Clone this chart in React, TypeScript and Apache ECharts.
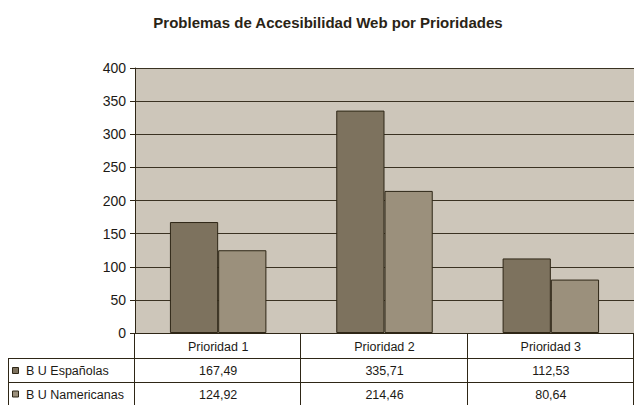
import React, { useEffect, useRef } from "react";
import * as echarts from "echarts";

const categories = ["Prioridad 1", "Prioridad 2", "Prioridad 3"];
const seriesNames = ["B U Españolas", "B U Namericanas"];
const espanolas = [167.49, 335.71, 112.53];
const namericanas = [124.92, 214.46, 80.64];
const yTicks = { min: 0, max: 400, interval: 50 };

const W = 634;
const H = 405;
const GL = 135;
const GT = 68;
const GB = 333;
const TL = 8;
const ROW_H = [25, 24, 23];

const darkC = "#7d725e";
const lightC = "#9b907c";
const lineC = "#2e2616";
const textC = "#1c1a16";
const FONT = "'Liberation Sans', Arial, sans-serif";

function fmt(v: number) {
  return v.toFixed(2).replace(".", ",");
}

export default function App() {
  const ref = useRef<HTMLDivElement>(null);
  useEffect(() => {
    if (!ref.current) return;
    const chart = echarts.init(ref.current, undefined, { renderer: "svg" });
    const rows = [espanolas, namericanas];
    const colors = [darkC, lightC];
    const colW = (W - GL) / categories.length;
    const graphic: any[] = [];
    const y1 = GB + ROW_H[0];
    const y2 = y1 + ROW_H[1];
    const y3 = y2 + ROW_H[2];
    const font = "12.5px " + FONT;
    [y1, y2].forEach((y) =>
      graphic.push({ type: "line", shape: { x1: TL, y1: y + 0.5, x2: W, y2: y + 0.5 }, style: { stroke: lineC, lineWidth: 1 } })
    );
    graphic.push({ type: "line", shape: { x1: TL + 0.5, y1: y1, x2: TL + 0.5, y2: y3 + 5 }, style: { stroke: lineC, lineWidth: 1 } });
    for (let i = 0; i <= categories.length; i++) {
      const x = Math.round(GL + i * colW) - 0.5;
      graphic.push({ type: "line", shape: { x1: x, y1: GB, x2: x, y2: y3 + 5 }, style: { stroke: lineC, lineWidth: 1 } });
    }
    categories.forEach((c, i) =>
      graphic.push({
        type: "text",
        x: GL + (i + 0.5) * colW,
        y: GB + ROW_H[0] / 2 + 1,
        style: { text: c, fill: textC, font, align: "center", verticalAlign: "middle" },
      })
    );
    rows.forEach((vals, r) => {
      const cy = (r === 0 ? y1 : y2) + ROW_H[r + 1] / 2 + 1;
      graphic.push({ type: "rect", shape: { x: 12.5, y: cy - 3.5, width: 6, height: 6 }, style: { fill: colors[r], stroke: lineC, lineWidth: 1 } });
      graphic.push({
        type: "text",
        x: 26,
        y: cy,
        style: { text: seriesNames[r], fill: textC, font, align: "left", verticalAlign: "middle" },
      });
      vals.forEach((v, i) =>
        graphic.push({
          type: "text",
          x: GL + (i + 0.5) * colW,
          y: cy,
          style: { text: fmt(v), fill: textC, font, align: "center", verticalAlign: "middle" },
        })
      );
    });

    chart.setOption({
      animation: false,
      title: {
        text: "Problemas de Accesibilidad Web por Prioridades",
        left: 323,
        top: 10,
        textAlign: "center",
        textStyle: { fontFamily: FONT, fontSize: 15, fontWeight: "bold", color: "#2a2416" },
      },
      grid: { left: GL, right: 0, top: GT, bottom: H - GB, backgroundColor: "#cdc6ba", show: true, borderWidth: 0 },
      xAxis: {
        type: "category",
        data: categories,
        axisLine: { show: true, lineStyle: { color: lineC, width: 1 } },
        axisTick: { show: false },
        axisLabel: { show: false },
      },
      yAxis: {
        type: "value",
        min: yTicks.min,
        max: yTicks.max,
        interval: yTicks.interval,
        axisLine: { show: true, lineStyle: { color: lineC, width: 1 } },
        axisTick: { show: true, length: 5, lineStyle: { color: lineC } },
        axisLabel: { color: textC, fontSize: 14, fontFamily: FONT, margin: 9 },
        splitLine: { show: true, lineStyle: { color: "#3a3222", width: 1 } },
      },
      series: [
        {
          name: seriesNames[0],
          type: "bar",
          data: espanolas,
          barGap: "0%",
          barCategoryGap: "42%",
          itemStyle: { color: darkC, borderColor: lineC, borderWidth: 1 },
        },
        {
          name: seriesNames[1],
          type: "bar",
          data: namericanas,
          itemStyle: { color: lightC, borderColor: lineC, borderWidth: 1 },
        },
      ],
      graphic,
    });
    return () => chart.dispose();
  }, []);
  return <div ref={ref} style={{ position: "fixed", left: 0, top: 0, width: W, height: H, background: "#fff" }} />;
}
